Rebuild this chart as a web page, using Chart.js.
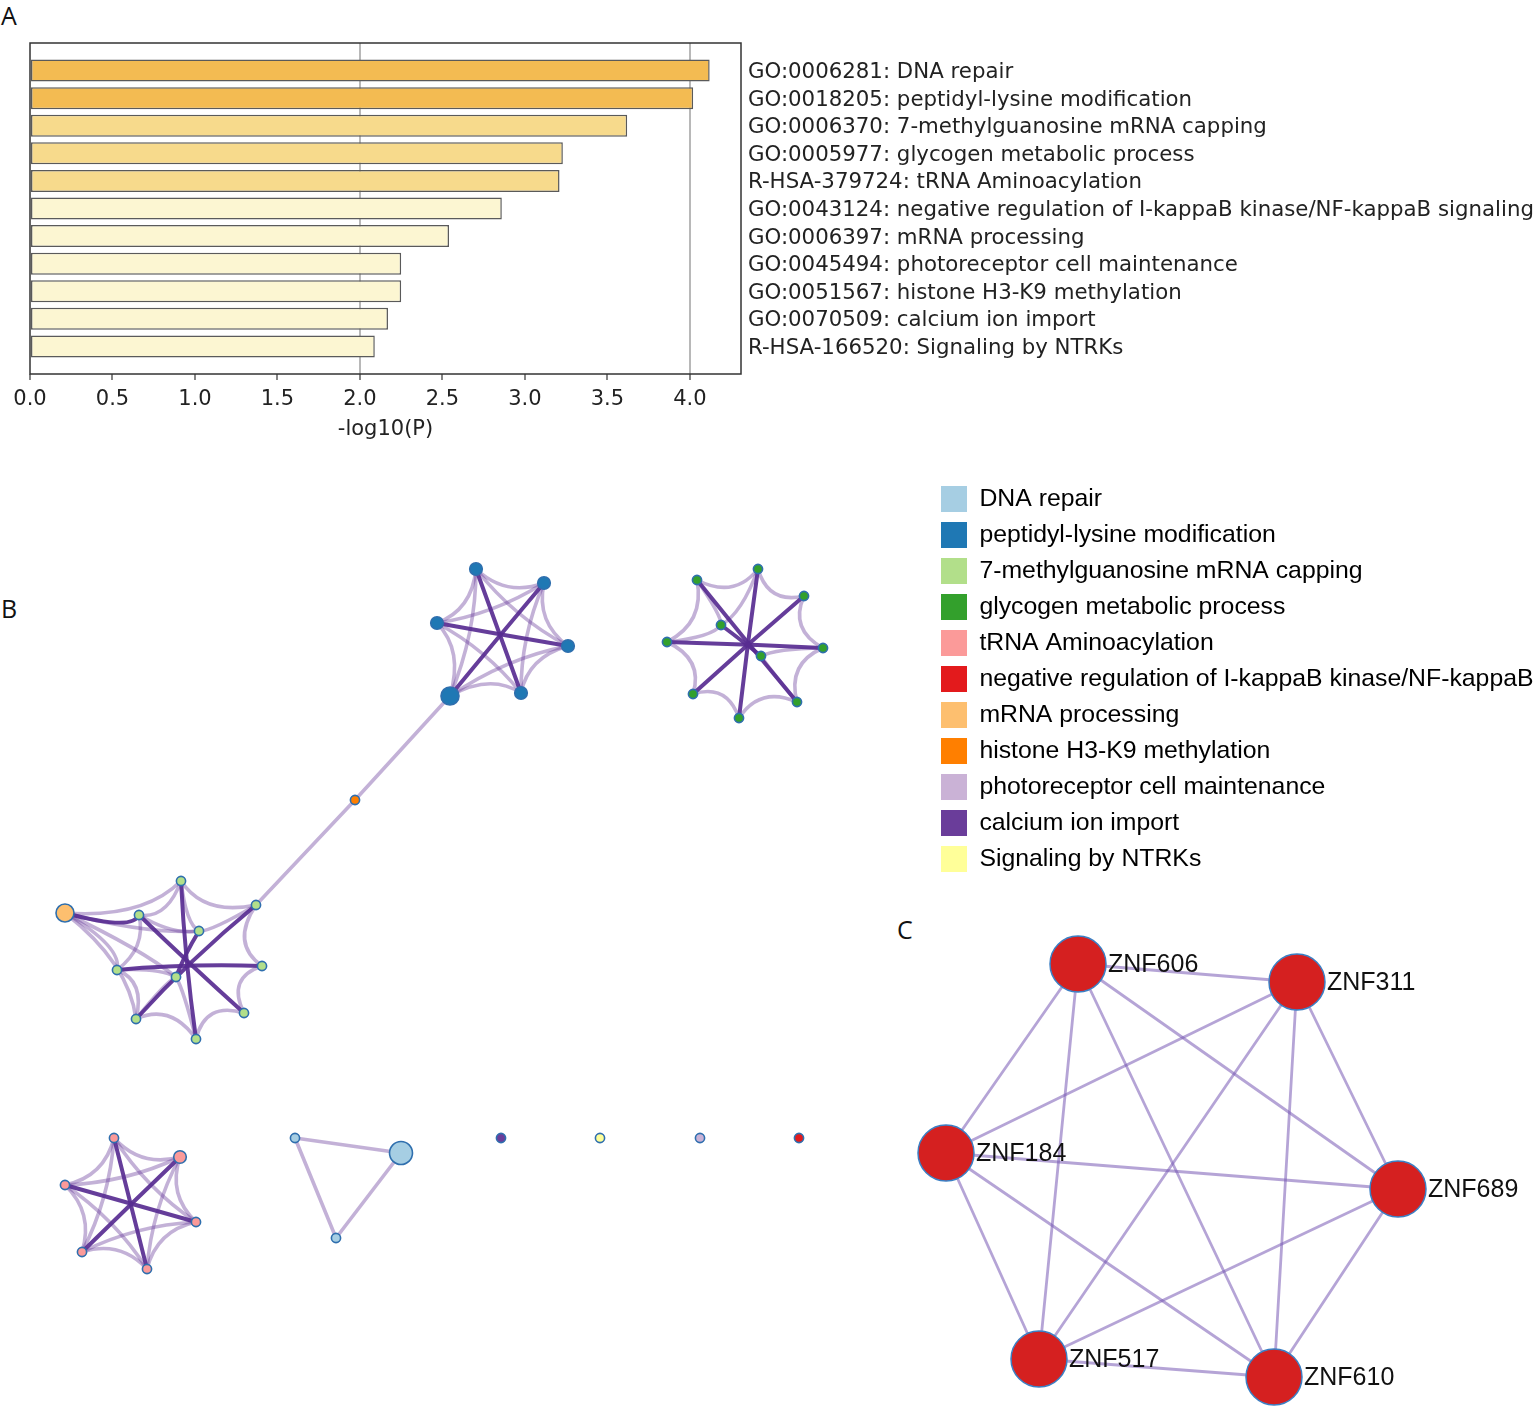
<!DOCTYPE html>
<html>
<head>
<meta charset="utf-8">
<script src="https://cdn.jsdelivr.net/npm/chart.js@4.4.1/dist/chart.umd.min.js"></script>
<style>
  body { margin: 0; background: #fff; width: 1536px; height: 1412px; position: relative; overflow: hidden; }
  canvas { position: absolute; }
  .tag { position: absolute; font-family: "Open Sans"; font-size: 25px; line-height: 25px; color: #111; }
</style>
</head>
<body>
<div class="tag" style="left:1px;top:3px">A</div>
<div class="tag" style="left:1px;top:596px">B</div>
<div class="tag" style="left:897px;top:917px">C</div>

<canvas id="barChart" width="1536" height="460" style="left:0;top:0"></canvas>
<canvas id="netChart" width="1536" height="830" style="left:0;top:476px"></canvas>
<canvas id="ppiChart" width="646" height="497" style="left:890px;top:915px"></canvas>

<script>
// ---- panel A: enriched terms ----
const termIds = ["GO:0006281", "GO:0018205", "GO:0006370", "GO:0005977", "R-HSA-379724",
  "GO:0043124", "GO:0006397", "GO:0045494", "GO:0051567", "GO:0070509", "R-HSA-166520"];
const termNames = ["DNA repair", "peptidyl-lysine modification", "7-methylguanosine mRNA capping",
  "glycogen metabolic process", "tRNA Aminoacylation",
  "negative regulation of I-kappaB kinase/NF-kappaB signaling", "mRNA processing",
  "photoreceptor cell maintenance", "histone H3-K9 methylation", "calcium ion import",
  "Signaling by NTRKs"];
const logP = [4.12, 4.02, 3.62, 3.23, 3.21, 2.86, 2.54, 2.25, 2.25, 2.17, 2.09];

// ---- panel B: term network ----
const clusterTerms = ["DNA repair", "peptidyl-lysine modification", "7-methylguanosine mRNA capping",
  "glycogen metabolic process", "tRNA Aminoacylation",
  "negative regulation of I-kappaB kinase/NF-kappaB", "mRNA processing",
  "histone H3-K9 methylation", "photoreceptor cell maintenance", "calcium ion import",
  "Signaling by NTRKs"];
// node layout (x, y), term index, weight, cluster
const nodeX = [476, 544, 437, 568, 521, 450, 355,
  697, 758, 804, 823, 797, 739, 693, 667, 721, 761,
  181, 256, 139, 199, 262, 117, 176, 136, 244, 196, 65,
  114, 180, 65, 196, 82, 147,
  295, 401, 336,
  501, 600, 700, 799];
const nodeY = [569, 583, 623, 646, 693, 696, 800,
  580, 569, 596, 648, 702, 718, 694, 642, 625, 656,
  881, 905, 915, 931, 966, 970, 977, 1019, 1013, 1039, 913,
  1138, 1157, 1185, 1222, 1252, 1269,
  1138, 1153, 1238,
  1138, 1138, 1138, 1138];
const nodeTerm = [1, 1, 1, 1, 1, 1, 7,
  3, 3, 3, 3, 3, 3, 3, 3, 3, 3,
  2, 2, 2, 2, 2, 2, 2, 2, 2, 2, 6,
  4, 4, 4, 4, 4, 4,
  0, 0, 0,
  9, 10, 8, 5];
const nodeWeight = [2, 2, 2, 2, 2, 3, 1,
  1, 1, 1, 1, 1, 1, 1, 1, 1, 1,
  1, 1, 1, 1, 1, 1, 1, 1, 1, 1, 3,
  1, 2, 1, 1, 1, 1,
  1, 4, 1,
  1, 1, 1, 1];
const nodeCluster = ["P", "P", "P", "P", "P", "P", "-",
  "G", "G", "G", "G", "G", "G", "G", "G", "G", "G",
  "M", "M", "M", "M", "M", "M", "M", "M", "M", "M", "M",
  "T", "T", "T", "T", "T", "T",
  "D", "D", "D",
  "-", "-", "-", "-"];
// [from, to, strong]
const termEdges = [
  [0, 1, 0], [1, 3, 0], [3, 4, 0], [4, 5, 0], [5, 2, 0], [2, 0, 0],
  [5, 0, 0], [5, 3, 0], [2, 4, 0], [0, 3, 0], [1, 2, 0], [1, 4, 0],
  [5, 1, 1], [2, 3, 1], [0, 4, 1],
  [5, 6, 0], [6, 18, 0],
  [7, 8, 0], [8, 9, 0], [9, 10, 0], [10, 11, 0], [11, 12, 0], [12, 13, 0], [13, 14, 0], [14, 7, 0],
  [14, 15, 0], [15, 7, 0], [16, 10, 0], [16, 11, 0], [15, 8, 0],
  [7, 11, 1], [8, 12, 1], [9, 13, 1], [14, 10, 1], [15, 16, 1],
  [17, 18, 0], [18, 21, 0], [21, 25, 0], [25, 26, 0], [26, 24, 0], [24, 22, 0], [22, 19, 0], [19, 17, 0],
  [27, 22, 0], [27, 17, 0], [27, 20, 0], [27, 24, 0], [20, 18, 0], [17, 20, 0], [23, 22, 0],
  [23, 24, 0], [20, 19, 0], [23, 26, 0], [27, 23, 0],
  [17, 26, 1], [18, 24, 1], [19, 25, 1], [22, 21, 1], [27, 19, 1], [20, 23, 1],
  [28, 29, 0], [29, 31, 0], [31, 33, 0], [33, 32, 0], [32, 30, 0], [30, 28, 0],
  [28, 31, 0], [30, 33, 0], [29, 30, 0], [28, 32, 0], [29, 33, 0], [31, 32, 0],
  [28, 33, 1], [29, 32, 1], [30, 31, 1],
  [34, 35, 0], [35, 36, 0], [36, 34, 0]
];

// ---- panel C: protein interaction network ----
const geneNames = ["ZNF606", "ZNF311", "ZNF184", "ZNF689", "ZNF517", "ZNF610"];
const geneX = [1078, 1297, 946, 1398, 1039, 1274];
const geneY = [964, 982, 1153, 1189, 1359, 1377];
const geneEdges = [[0, 1], [0, 2], [0, 3], [0, 4], [0, 5], [1, 2], [1, 3], [1, 4], [1, 5],
  [2, 3], [2, 4], [2, 5], [3, 4], [3, 5], [4, 5]];

const palette = ["#a6cee3", "#1f78b4", "#b2df8a", "#33a02c", "#fb9a99", "#e31a1c",
  "#fdbf6f", "#ff7f00", "#cab2d6", "#6a3d9a", "#ffff99"];
const barColor = v => v >= 4 ? "#f3bb52" : v >= 3 ? "#f7da8c" : "#fcf6d2";
const radius = w => [0, 4.6, 6.3, 9, 11.5][w];

Chart.defaults.font.family = "Liberation Sans";
Chart.defaults.animation = false;

const frame = {
  id: "frame",
  afterDatasetsDraw(chart) {
    const { ctx, chartArea: a } = chart;
    ctx.save();
    ctx.strokeStyle = "#333";
    ctx.lineWidth = 1.5;
    ctx.strokeRect(a.left, a.top, a.right - a.left, a.bottom - a.top);
    ctx.restore();
  }
};

new Chart(document.getElementById("barChart"), {
  type: "bar",
  data: {
    datasets: [{
      data: logP.map((v, i) => ({ x: v, y: i })),
      backgroundColor: logP.map(barColor),
      borderColor: "#5a5a5a",
      borderWidth: 1.5,
      borderSkipped: false,
      barPercentage: 1,
      categoryPercentage: 0.8
    }]
  },
  options: {
    indexAxis: "y",
    responsive: false,
    layout: { padding: { left: 30, top: 43 } },
    plugins: { legend: { display: false }, tooltip: { enabled: false } },
    scales: {
      x: {
        type: "linear", min: 0, max: 4.31, z: 1,
        ticks: {
          stepSize: 0.5, includeBounds: false, padding: 7, color: "#222",
          font: { family: "DejaVu Sans", size: 21 },
          callback: v => v.toFixed(1)
        },
        grid: {
          color: c => (c.tick && (c.tick.value === 2 || c.tick.value === 4)) ? "#b8b8b8" : "rgba(0,0,0,0)",
          lineWidth: 2, tickColor: "#333", tickLength: 6, tickWidth: 1.2
        },
        border: { display: false },
        title: {
          display: true, text: "-log10(P)", color: "#222",
          font: { family: "DejaVu Sans", size: 21 }, padding: { top: 4, bottom: 18 }
        },
        afterFit: s => { s.height = 86; }
      },
      y: {
        type: "linear", position: "right", reverse: true, min: -1, max: 11, offset: false,
        afterBuildTicks: s => { s.ticks = termIds.map((_, i) => ({ value: i })); },
        ticks: {
          autoSkip: false, padding: 7, labelOffset: 2, color: "#222",
          font: { family: "DejaVu Sans", size: 21.3 },
          callback: v => termIds[v] + ": " + termNames[v]
        },
        grid: { display: false, drawTicks: false, offset: false },
        border: { display: false },
        afterFit: s => { s.width = 795; }
      }
    }
  },
  plugins: [frame]
});

// draws edges between nodes, bending toward the centre of their cluster
function edgeLayer(xs, ys, groups, edges, style) {
  return {
    id: "edges",
    beforeDatasetsDraw(chart) {
      const { ctx, scales: { x, y } } = chart;
      const px = xs.map(v => x.getPixelForValue(v));
      const py = ys.map(v => y.getPixelForValue(v));
      const centre = {};
      groups.forEach((g, i) => {
        if (g === "-") return;
        centre[g] = centre[g] || { x: 0, y: 0, n: 0 };
        centre[g].x += px[i]; centre[g].y += py[i]; centre[g].n++;
      });
      ctx.save();
      ctx.lineCap = "round";
      [0, 1].forEach(pass => {
        edges.forEach(([a, b, strong = 0]) => {
          if (strong !== pass) return;
          const mx = (px[a] + px[b]) / 2, my = (py[a] + py[b]) / 2;
          let cx = mx, cy = my;
          const g = groups[a];
          if (g !== "-" && g === groups[b] && centre[g].n > 3) {
            const k = strong ? 0.2 : style.bend;
            cx = mx + 2 * k * (centre[g].x / centre[g].n - mx);
            cy = my + 2 * k * (centre[g].y / centre[g].n - my);
          }
          ctx.beginPath();
          ctx.moveTo(px[a], py[a]);
          ctx.quadraticCurveTo(cx, cy, px[b], py[b]);
          ctx.strokeStyle = strong ? style.strong : style.weak;
          ctx.lineWidth = strong ? style.strongWidth : style.width;
          ctx.stroke();
        });
      });
      ctx.restore();
    }
  };
}

new Chart(document.getElementById("netChart"), {
  type: "scatter",
  data: {
    datasets: clusterTerms.map((name, c) => ({
      label: name,
      data: nodeTerm.map((t, i) => t === c ? { x: nodeX[i], y: nodeY[i], w: nodeWeight[i] } : null).filter(Boolean),
      backgroundColor: palette[c],
      borderColor: "#2f6fae",
      borderWidth: 1.6,
      pointRadius: ctx => radius(ctx.raw ? ctx.raw.w : 1),
      clip: false
    }))
  },
  options: {
    responsive: false,
    layout: { autoPadding: false },
    scales: {
      x: { type: "linear", min: 0, max: 931, display: false },
      y: { type: "linear", min: 476, max: 1306, reverse: true, display: false }
    },
    plugins: {
      tooltip: { enabled: false },
      legend: {
        position: "right", align: "start", maxWidth: 605,
        labels: {
          boxWidth: 26, boxHeight: 26, padding: 10, color: "#111",
          font: { family: "Liberation Sans", size: 24.8 },
          generateLabels: () => clusterTerms.map((t, i) => ({
            text: t, fillStyle: palette[i], strokeStyle: palette[i], lineWidth: 0, hidden: false, datasetIndex: i
          }))
        }
      }
    }
  },
  plugins: [edgeLayer(nodeX, nodeY, nodeCluster, termEdges,
    { weak: "rgba(106,61,154,0.4)", strong: "rgba(88,44,145,0.92)", width: 3.6, strongWidth: 4, bend: 0.18 })]
});

const geneLabels = {
  id: "geneLabels",
  afterDatasetsDraw(chart) {
    const { ctx, scales: { x, y } } = chart;
    ctx.save();
    ctx.font = "25px 'Liberation Sans'";
    ctx.fillStyle = "#111";
    ctx.textBaseline = "middle";
    geneNames.forEach((n, i) => ctx.fillText(n, x.getPixelForValue(geneX[i]) + 30, y.getPixelForValue(geneY[i]) + 1));
    ctx.restore();
  }
};

new Chart(document.getElementById("ppiChart"), {
  type: "scatter",
  data: {
    datasets: [{
      data: geneX.map((v, i) => ({ x: v, y: geneY[i] })),
      backgroundColor: "#d52020",
      borderColor: "#3b7fc4",
      borderWidth: 1.5,
      pointRadius: 28,
      clip: false
    }]
  },
  options: {
    responsive: false,
    layout: { autoPadding: false },
    scales: {
      x: { type: "linear", min: 890, max: 1536, display: false },
      y: { type: "linear", min: 915, max: 1412, reverse: true, display: false }
    },
    plugins: { legend: { display: false }, tooltip: { enabled: false } }
  },
  plugins: [edgeLayer(geneX, geneY, geneNames.map(() => "-"), geneEdges,
    { weak: "rgba(120,90,180,0.55)", strong: "rgba(120,90,180,0.55)", width: 2.8, strongWidth: 2.8, bend: 0 }), geneLabels]
});
</script>
</body>
</html>
